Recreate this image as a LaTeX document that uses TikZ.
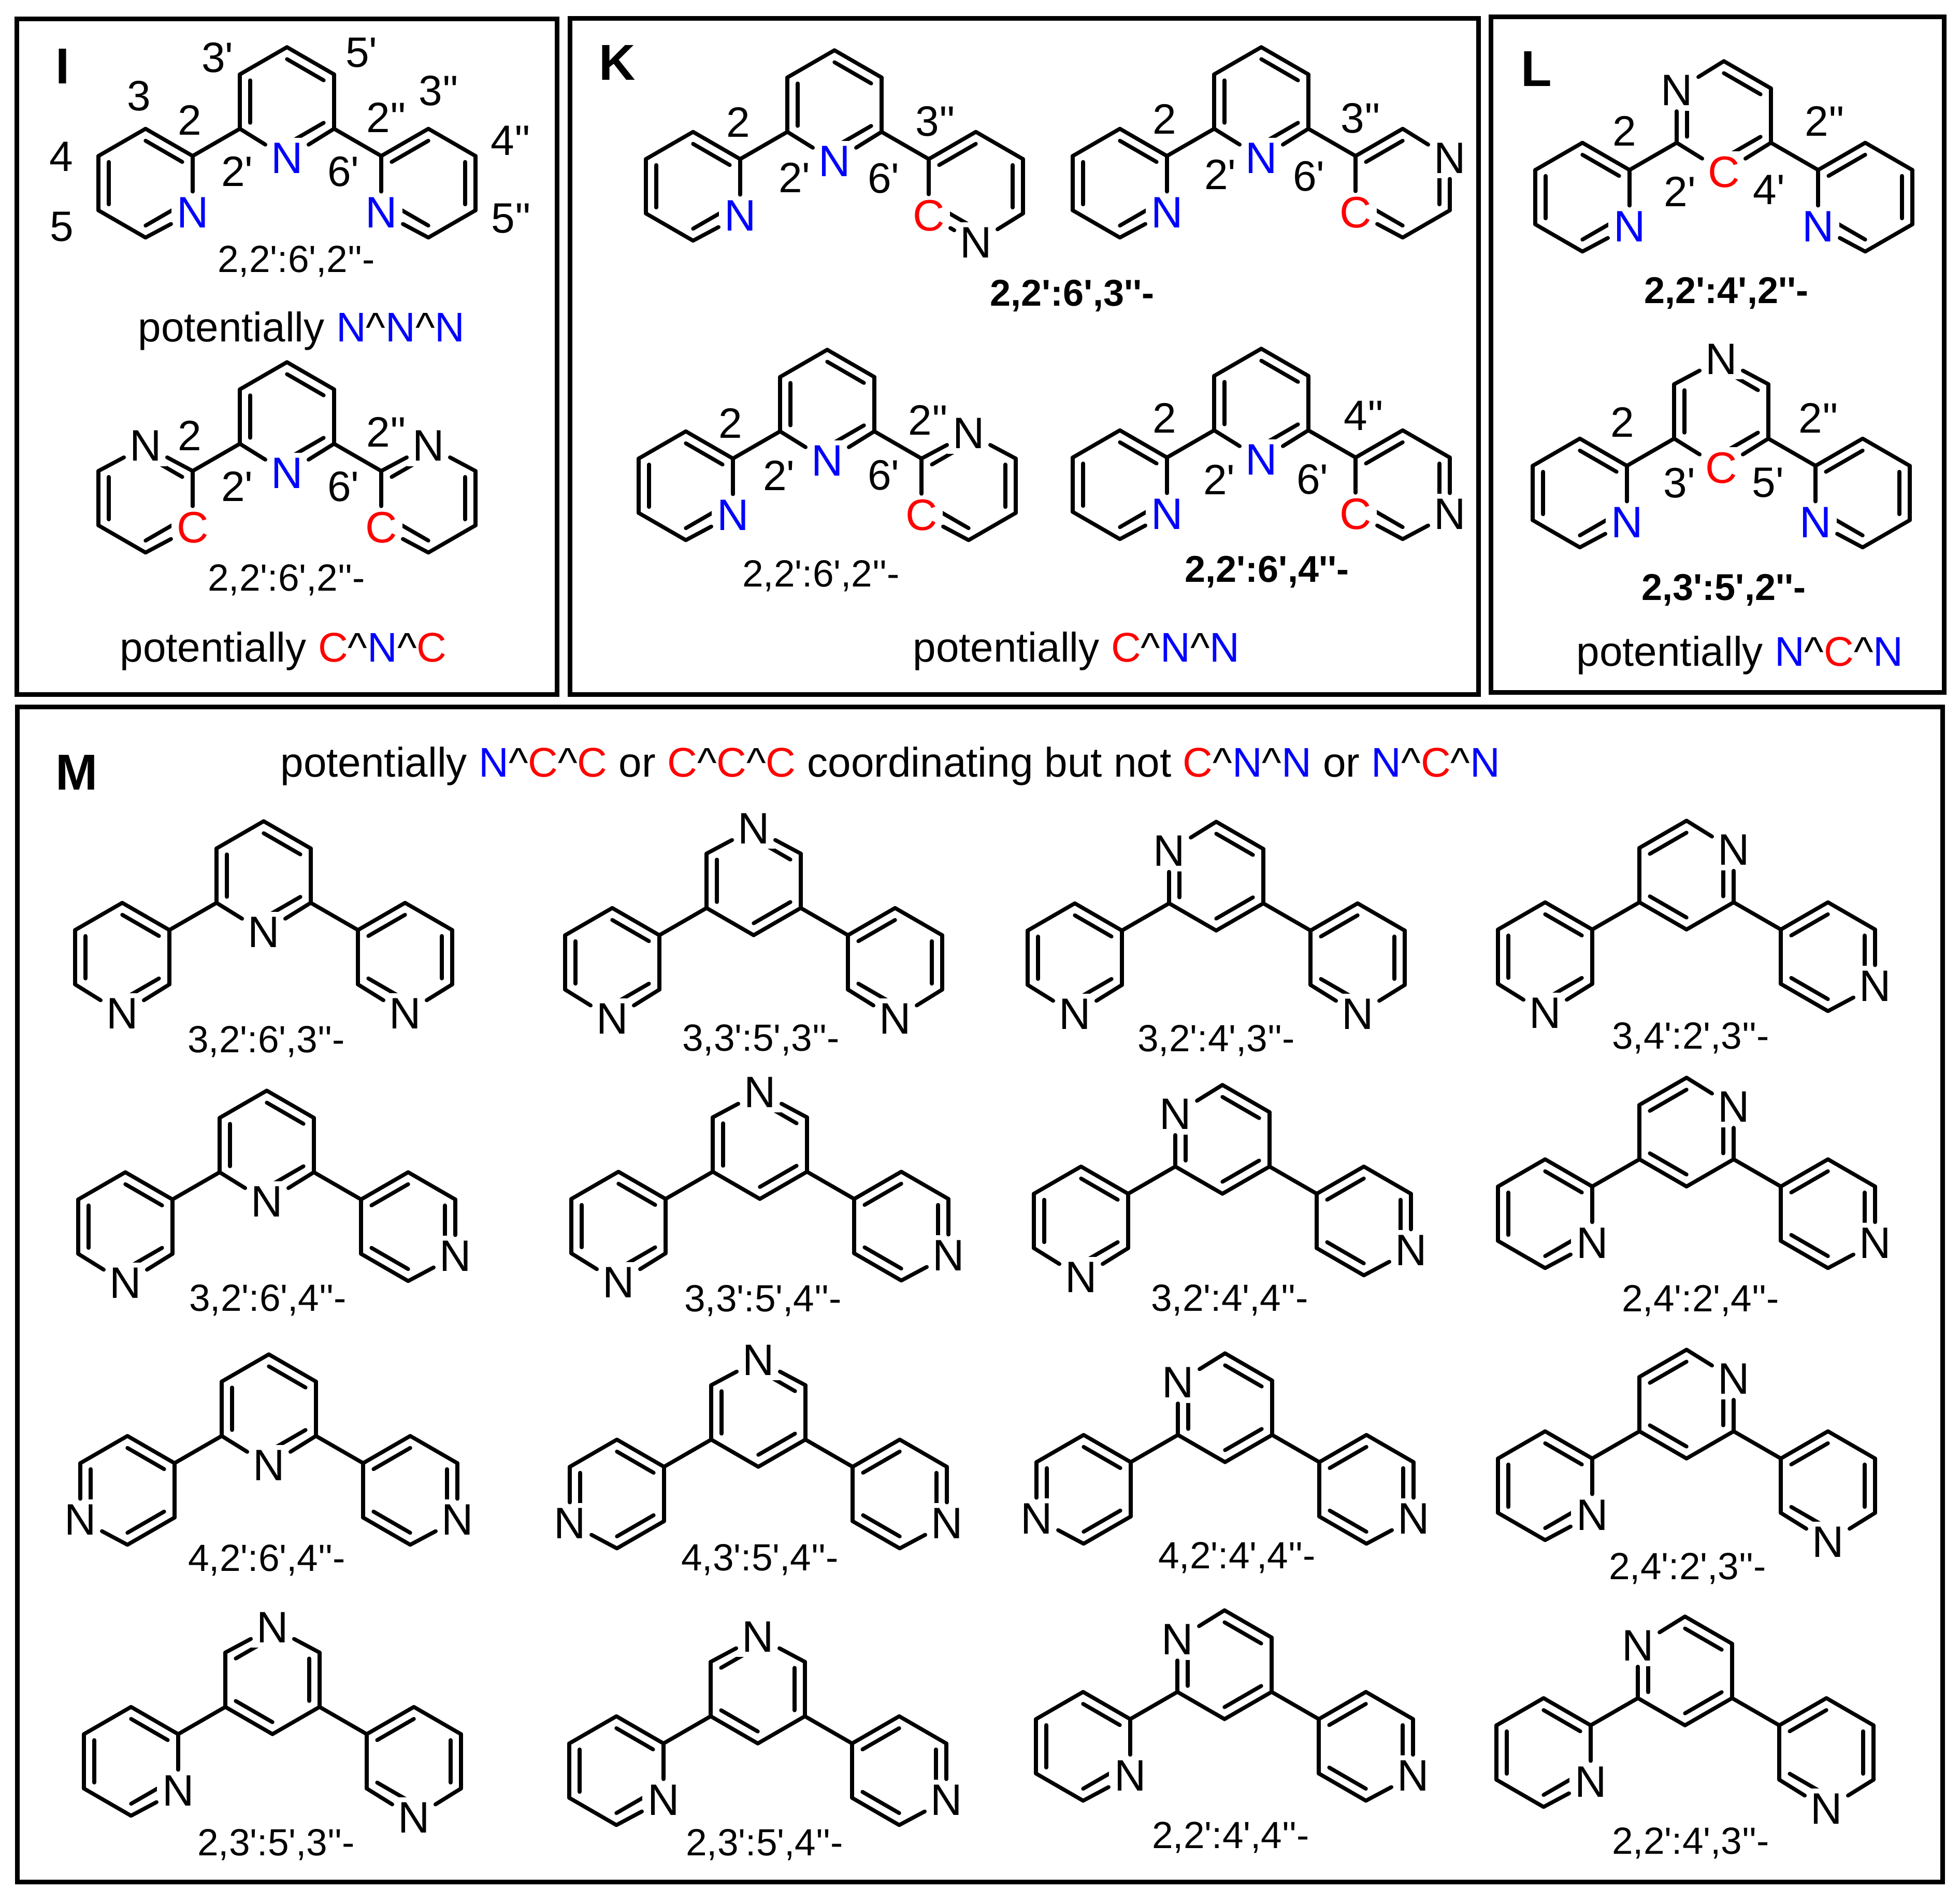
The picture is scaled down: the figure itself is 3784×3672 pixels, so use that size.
\documentclass[tikz,border=0pt]{standalone}
\usepackage{fontspec}
\usetikzlibrary{calc}
\newfontfamily\arialfont{Liberation Sans}
\newcommand{\cN}{\textcolor{blue}{N}}
\newcommand{\cC}{\textcolor{red}{C}}
\newcommand{\car}{\textasciicircum}
\newcommand{\newringtype}[3]{\expandafter\def\csname ringtype#1\endcsname{\def\ringatoms{#2}\def\ringdbl{#3}}}
\newringtype{Lb}{3/N/blue}{1,3,5}
\newringtype{Rb}{5/N/blue}{2,4,6}
\newringtype{Pb}{4/N/blue}{1,3,5}
\newringtype{Lnc}{1/N/black,3/C/red}{1,3,5}
\newringtype{Rnc}{1/N/black,5/C/red}{2,4,6}
\newringtype{Rbn}{4/N/black,5/C/red}{2,4,6}
\newringtype{Ran}{2/N/black,5/C/red}{2,4,6}
\newringtype{Rcn}{3/N/black,5/C/red}{2,4,6}
\newringtype{Mla}{6/N/black,4/C/red}{1,3,5}
\newringtype{Mlb}{1/N/black,4/C/red}{1,3,5}
\newringtype{Ltwo}{3/N/black}{1,3,5}
\newringtype{Lthree}{4/N/black}{1,3,5}
\newringtype{Lfour}{5/N/black}{1,3,5}
\newringtype{Rthree}{4/N/black}{2,4,6}
\newringtype{Rfour}{3/N/black}{2,4,6}
\newringtype{Mp}{4/N/black}{1,3,5}
\newringtype{Mq}{1/N/black}{1,3,5}
\newringtype{Mu}{1/N/black}{2,4,6}
\newringtype{Mr}{6/N/black}{1,3,5}
\newringtype{Ms}{2/N/black}{2,4,6}
\newcommand{\ringat}[4]{
  \csname ringtype#4\endcsname
  \coordinate (#1c) at ({#2},{#3});
  \foreach \k in {1,...,6}
    \coordinate (#1\k) at ({#2+105*cos(150-60*\k)},{#3-105*sin(150-60*\k)});
  \foreach \d in \ringdbl {
    \pgfmathtruncatemacro{\nxt}{mod(\d,6)+1}
    \draw[bond] ($(#1c)!.78!(#1\d)$) -- ($(#1c)!.78!(#1\nxt)$);
  }
  \foreach \k/\lab/\col in \ringatoms
    \node[atom,text=\col] (#1\k) at (#1\k) {\lab};
  \foreach \k in {1,...,6} {
    \pgfmathtruncatemacro{\nxt}{mod(\k,6)+1}
    \draw[bond] (#1\k) -- (#1\nxt);
  }
}
\newcommand{\terpy}[6]{
  \ringat{#1m}{#2}{#3}{#5}
  \ringat{#1l}{#2-273}{#3+157.5}{#4}
  \ringat{#1r}{#2+273}{#3+157.5}{#6}
  \draw[bond] (#1m5) -- (#1l2);
  \draw[bond] (#1m3) -- (#1r6);
}
\begin{document}
\begin{tikzpicture}[
    x=0.2pt, y=-0.2pt,
    bond/.style={line width=1.5pt, line cap=round, line join=round},
    atom/.style={fill=white, inner sep=2pt, yshift=-0.8pt, font=\arialfont\fontsize{17}{18}\selectfont},
    frame/.style={draw, line width=1.8pt},
    numlab/.style={inner sep=0pt, font=\arialfont\fontsize{16.4}{18}\selectfont},
    capt/.style={anchor=base, inner sep=0pt, font=\arialfont\fontsize{14.6}{18}\selectfont},
    bcapt/.style={anchor=base, inner sep=0pt, font=\arialfont\bfseries\fontsize{14.4}{18}\selectfont},
    pot/.style={anchor=base, inner sep=0pt, font=\arialfont\fontsize{16}{18}\selectfont},
    panel/.style={inner sep=0pt, font=\arialfont\bfseries\fontsize{19.5}{20}\selectfont}
]
\useasboundingbox (0,0) rectangle (3784,3672);
\draw[frame] (32,36) rectangle (1075,1340);
\draw[frame] (1100,35) rectangle (2854,1340);
\draw[frame] (2878,32) rectangle (3753,1336);
\draw[frame] (33,1364) rectangle (3750,3632);

\node[panel] (letI) at (121,128) {I};
\node[panel] (letK) at (1192,121) {K};
\node[panel] (letL) at (2966,133) {L};
\node[panel] (letM) at (148,1491) {M};

\terpy{ia}{554}{196}{Lb}{Pb}{Rb}
\terpy{ib}{554}{804}{Lnc}{Pb}{Rnc}
\terpy{ka}{1611}{202}{Lb}{Pb}{Rbn}
\terpy{kb}{2435}{196}{Lb}{Pb}{Ran}
\terpy{kc}{1597}{780}{Lb}{Pb}{Rnc}
\terpy{kd}{2435}{778}{Lb}{Pb}{Rcn}
\terpy{la}{3328}{223}{Lb}{Mla}{Rb}
\terpy{lb}{3323}{794}{Lb}{Mlb}{Rb}

\terpy{ma}{509}{1690}{Lthree}{Mp}{Rthree}
\terpy{mb}{1455}{1700}{Lthree}{Mq}{Rthree}
\terpy{mc}{2348}{1691}{Lthree}{Mr}{Rthree}
\terpy{md}{3256}{1689}{Lthree}{Ms}{Rfour}
\terpy{me}{515}{2210}{Lthree}{Mp}{Rfour}
\terpy{mf}{1467}{2209}{Lthree}{Mq}{Rfour}
\terpy{mg}{2360}{2199}{Lthree}{Mr}{Rfour}
\terpy{mh}{3256}{2185}{Ltwo}{Ms}{Rfour}
\terpy{mi}{519}{2719}{Lfour}{Mp}{Rfour}
\terpy{mj}{1464}{2726}{Lfour}{Mq}{Rfour}
\terpy{mk}{2365}{2717}{Lfour}{Mr}{Rfour}
\terpy{ml}{3256}{2710}{Ltwo}{Ms}{Rthree}
\terpy{mm}{526}{3242}{Ltwo}{Mu}{Rthree}
\terpy{mn}{1463}{3260}{Ltwo}{Mu}{Rfour}
\terpy{mo}{2364}{3213}{Ltwo}{Mr}{Rfour}
\terpy{mp}{3253}{3225}{Ltwo}{Mr}{Rthree}

\foreach \x/\y/\lab [count=\i] in {
    268/185/3, 118/302/4, 119/438/5, 366/232/2, 420/111/3', 698/102/5',
    458/331/2', 663/331/6', 746/227/2'', 847/175/3'', 986/271/4'', 987/422/5'',
    366/841/2, 458/939/2', 663/939/6', 746/834/2'',
    1425/236/2, 1534/343/2', 1706/344/6', 1806/234/3'',
    2248/230/2, 2356/337/2', 2527/340/6', 2627/228/3'',
    1410/817/2, 1504/918/2', 1706/917/6', 1792/811/2'',
    2248/807/2, 2354/926/2', 2534/925/6', 2633/802/4'',
    3136/253/2, 3243/370/2', 3415/366/4', 3523/234/2'',
    3132/815/2, 3242/932/3', 3413/932/5', 3511/807/2''}
  \node[numlab] (num\i) at (\x,\y) {\lab};

\foreach \x/\y/\lab [count=\i] in {
    572/525/{2,2':6',2''-}, 553/1140/{2,2':6',2''-}, 1585/1132/{2,2':6',2''-},
    514/2031/{3,2':6',3''-}, 1469/2028/{3,3':5',3''-}, 2348/2029/{3,2':4',3''-}, 3264/2024/{3,4':2',3''-},
    517/2530/{3,2':6',4''-}, 1473/2531/{3,3':5',4''-}, 2374/2530/{3,2':4',4''-}, 3283/2531/{2,4':2',4''-},
    515/3032/{4,2':6',4''-}, 1467/3031/{4,3':5',4''-}, 2388/3027/{4,2':4',4''-}, 3258/3048/{2,4':2',3''-},
    533/3581/{2,3':5',3''-}, 1476/3581/{2,3':5',4''-}, 2376/3567/{2,2':4',4''-}, 3264/3578/{2,2':4',3''-}}
  \node[capt] (cap\i) at (\x,\y) {\lab};

\foreach \x/\y/\lab [count=\i] in {
    2070/590/{2,2':6',3''-}, 2446/1123/{2,2':6',4''-},
    3333/585/{2,2':4',2''-}, 3328/1158/{2,3':5',2''-}}
  \node[bcapt] (bcap\i) at (\x,\y) {\lab};

\node[pot] (potI) at (582,659) {potentially \cN\car\cN\car\cN};
\node[pot] (potJ) at (547,1277) {potentially \cC\car\cN\car\cC};
\node[pot] (potK) at (2078,1277) {potentially \cC\car\cN\car\cN};
\node[pot] (potL) at (3359,1285) {potentially \cN\car\cC\car\cN};
\node[pot] (potM) at (1719,1499) {potentially \cN\car\cC\car\cC{} or \cC\car\cC\car\cC{} coordinating but not \cC\car\cN\car\cN{} or \cN\car\cC\car\cN};
\end{tikzpicture}
\end{document}
